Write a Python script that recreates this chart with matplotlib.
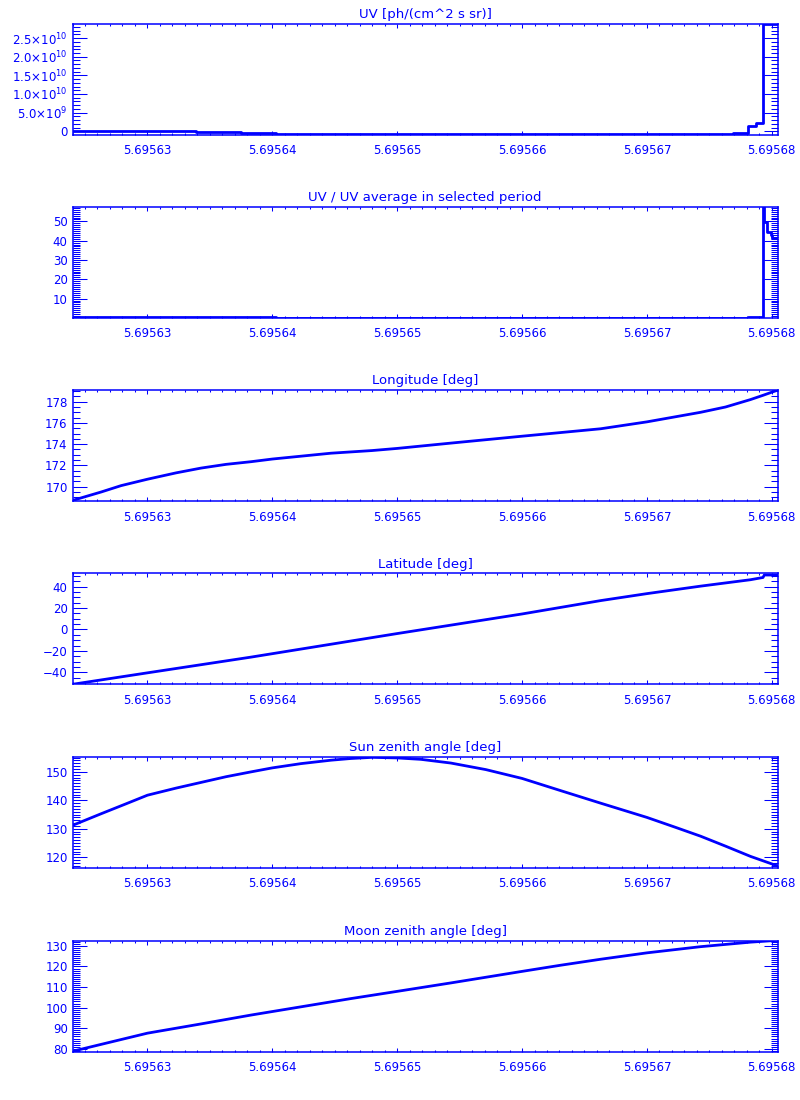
import matplotlib

matplotlib.use("Agg")
import matplotlib.pyplot as plt
from matplotlib.ticker import MultipleLocator, FormatStrFormatter, FuncFormatter

# time axis (all panels share it)
x_lim = (5.6956240, 5.6956805)

# UV [ph/(cm^2 s sr)] - stepped
uv_x = [5.6956240, 5.6956247, 5.6956253, 5.6956339, 5.6956375, 5.6956403,
        5.6956769, 5.6956781, 5.6956787, 5.6956793, 5.6956805]
uv_y = [0.05e9, 0.0, 0.18e9, -0.08e9, -0.34e9, -0.6e9,
        -0.4e9, 1.3e9, 2.1e9, 2.89e10, 2.89e10]

# UV / UV average in selected period - stepped
ratio_x = [5.6956240, 5.6956339, 5.6956403, 5.6956781, 5.6956793,
           5.6956794, 5.6956796, 5.6956799, 5.6956800, 5.6956805]
ratio_y = [0.45, 0.35, 0.2, 0.55, 57.6, 49.8, 44.6, 42.9, 41.3, 41.3]

# Longitude [deg]
lon_x = [5.6956240, 5.6956250, 5.6956263, 5.6956279, 5.6956300, 5.6956323,
         5.6956343, 5.6956363, 5.6956383, 5.6956400, 5.6956447, 5.6956480,
         5.6956500, 5.6956543, 5.6956600, 5.6956663, 5.6956700, 5.6956743,
         5.6956763, 5.6956783, 5.6956793, 5.6956805]
lon_y = [168.7, 169.05, 169.5, 170.1, 170.7, 171.3, 171.75, 172.1, 172.35,
         172.6, 173.15, 173.4, 173.6, 174.1, 174.75, 175.45, 176.1, 177.0,
         177.5, 178.2, 178.6, 179.1]

# Latitude [deg]
lat_x = [5.6956240, 5.6956300, 5.6956383, 5.6956500, 5.6956600, 5.6956663,
         5.6956700, 5.6956743, 5.6956783, 5.6956793, 5.6956794, 5.6956805]
lat_y = [-51.2, -40.5, -25.8, -3.8, 14.5, 27.0, 33.5, 40.5, 46.5, 48.6,
         50.9, 50.9]

# Sun zenith angle [deg]
sun_x = [5.6956240, 5.6956263, 5.6956283, 5.6956300, 5.6956323, 5.6956343,
         5.6956363, 5.6956383, 5.6956400, 5.6956423, 5.6956447, 5.6956463,
         5.6956480, 5.6956500, 5.6956519, 5.6956543, 5.6956571, 5.6956600,
         5.6956631, 5.6956663, 5.6956700, 5.6956723, 5.6956743, 5.6956763,
         5.6956783, 5.6956805]
sun_y = [131.2, 135.3, 138.8, 141.8, 144.3, 146.3, 148.3, 150.0, 151.4,
         152.9, 154.1, 154.7, 155.1, 154.9, 154.4, 153.1, 150.8, 147.7,
         143.4, 139.0, 134.0, 130.5, 127.4, 123.9, 120.3, 116.9]

# Moon zenith angle [deg]
moon_x = [5.6956240, 5.6956300, 5.6956343, 5.6956383, 5.6956423, 5.6956463,
          5.6956500, 5.6956543, 5.6956600, 5.6956631, 5.6956663, 5.6956700,
          5.6956743, 5.6956783, 5.6956805]
moon_y = [78.8, 87.6, 92.1, 96.4, 100.4, 104.4, 107.9, 112.0, 117.6, 120.6,
          123.5, 126.6, 129.6, 131.8, 132.7]

titles = ["UV [ph/(cm^2 s sr)]", "UV / UV average in selected period",
          "Longitude [deg]", "Latitude [deg]", "Sun zenith angle [deg]",
          "Moon zenith angle [deg]"]
ylims = [(-0.86e9, 2.89e10), (0.1, 57.6), (168.65, 179.1), (-51.2, 52.5),
         (116.4, 155.4), (78.7, 132.6)]
ymajor = [5e9, 10, 2, 20, 10, 10]
yminor = [1e9, 1, 0.5, 5, 1, 1]

series = [(uv_x, uv_y, True), (ratio_x, ratio_y, True), (lon_x, lon_y, False),
          (lat_x, lat_y, False), (sun_x, sun_y, False), (moon_x, moon_y, False)]

blue = "#0000ff"


def sci_fmt(v, pos):
    if abs(v) < 1:
        return "0"
    exp = 0
    m = v
    while abs(m) >= 10:
        m /= 10
        exp += 1
    return r"$%.1f{\times}10^{%d}$" % (m, exp)


fig = plt.figure(figsize=(8, 11), dpi=100)
W, H = 800.0, 1100.0
left_px, right_px = 72.5, 778.0
tops = [23.5, 206.7, 390.0, 573.3, 756.5, 940.5]
ax_h = 111.0

for i in range(6):
    ax = fig.add_axes([left_px / W, 1 - (tops[i] + ax_h) / H,
                       (right_px - left_px) / W, ax_h / H])
    xs, ys, stepped = series[i]
    if stepped:
        ax.plot(xs, ys, color=blue, lw=2.0, drawstyle="steps-post")
    else:
        ax.plot(xs, ys, color=blue, lw=2.0)
    ax.set_xlim(*x_lim)
    ax.set_ylim(*ylims[i])
    ax.xaxis.set_major_locator(MultipleLocator(1e-5))
    ax.xaxis.set_minor_locator(MultipleLocator(1e-6))
    ax.xaxis.set_major_formatter(FormatStrFormatter("%.5f"))
    ax.yaxis.set_major_locator(MultipleLocator(ymajor[i]))
    ax.yaxis.set_minor_locator(MultipleLocator(yminor[i]))
    if i == 0:
        ax.yaxis.set_major_formatter(FuncFormatter(sci_fmt))
    for sp in ax.spines.values():
        sp.set_color(blue)
        sp.set_linewidth(1.1)
    ax.tick_params(which="both", direction="in", top=True, right=True,
                   colors=blue, labelsize=8.5, width=0.75)
    ax.tick_params(axis="x", which="major", length=2.6, pad=7)
    ax.tick_params(axis="x", which="minor", length=1.4)
    ax.tick_params(axis="y", which="major", length=10, pad=3.5)
    ax.tick_params(axis="y", which="minor", length=5)
    ax.set_title(titles[i], color=blue, fontsize=9.5, pad=4)

plt.savefig("out.png", dpi=100, facecolor="white")
